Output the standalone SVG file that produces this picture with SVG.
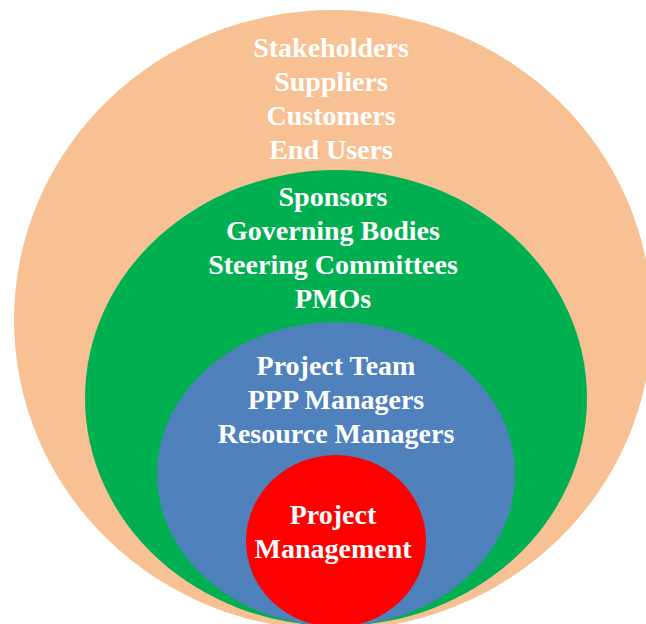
<svg xmlns="http://www.w3.org/2000/svg" width="646" height="624" viewBox="0 0 646 624">
<style>
text{font-family:"Liberation Serif","Times New Roman",serif;font-weight:bold;font-size:28px;fill:#ffffff;text-anchor:middle}
</style>
<rect width="646" height="624" fill="#ffffff"/>
<g id="stakeholders">
<ellipse cx="333" cy="320" rx="319" ry="310" fill="#F8C193"/>
<text x="331" y="57">Stakeholders</text>
<text x="331" y="91">Suppliers</text>
<text x="331" y="125">Customers</text>
<text x="331" y="159">End Users</text>
</g>
<g id="sponsors">
<ellipse cx="336" cy="398" rx="251" ry="228" fill="#00B050"/>
<text x="333" y="206">Sponsors</text>
<text x="333" y="240">Governing Bodies</text>
<text x="333" y="274">Steering Committees</text>
<text x="333" y="308">PMOs</text>
</g>
<g id="team">
<ellipse cx="336" cy="474" rx="179" ry="152" fill="#4F81BD"/>
<text x="336" y="375">Project Team</text>
<text x="336" y="409">PPP Managers</text>
<text x="336" y="443">Resource Managers</text>
</g>
<g id="pm">
<ellipse cx="336" cy="541" rx="90" ry="86" fill="#FF0000"/>
<text x="333" y="524">Project</text>
<text x="333" y="558">Management</text>
</g>
<g id="connectors"/>
</svg>
